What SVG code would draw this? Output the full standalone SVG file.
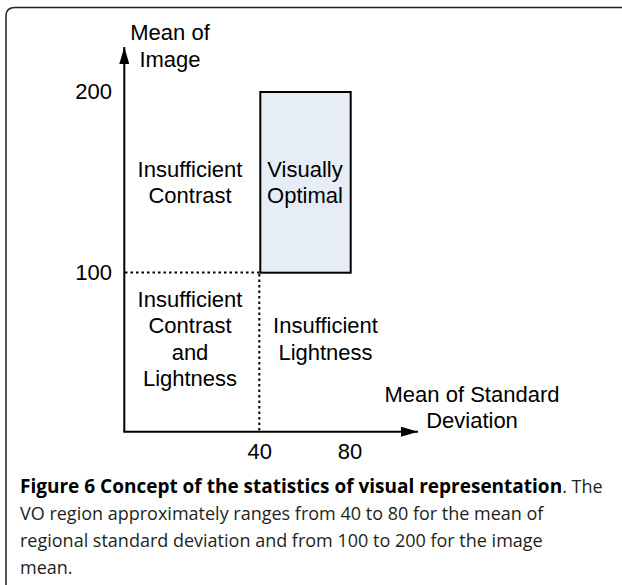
<svg xmlns="http://www.w3.org/2000/svg" width="622" height="585" viewBox="0 0 622 585">
<defs>
<marker id="arr" viewBox="0 0 17 10" refX="17" refY="5" markerWidth="17" markerHeight="10" markerUnits="userSpaceOnUse" orient="auto">
<path d="M0,0 L17,5 L0,10 Z" fill="#000"/>
</marker>
</defs>
<style>
.t{font-family:"Liberation Sans",Arial,sans-serif;font-size:22px;fill:#000;text-anchor:middle}
.n{font-family:"Liberation Sans",Arial,sans-serif;font-size:22px;fill:#000}
.cap{font-family:"Open Sans",sans-serif;font-size:18px;fill:#231f20}
.b{font-weight:bold;font-size:19px;fill:#000}
.axis{stroke:#000;stroke-width:2;fill:none}
.dot{stroke:#000;stroke-width:2;stroke-dasharray:2.5 3;fill:none}
</style>
<rect width="622" height="585" fill="#fff"/>
<path d="M6,592 L6,16 Q6,7.5 15,7.5 L640,7.5" fill="none" stroke="#222" stroke-width="1.5"/>
<g id="connectors">
<line class="axis" x1="124.3" y1="432" x2="124.3" y2="47" marker-end="url(#arr)"/>
<line class="axis" x1="123.3" y1="431.7" x2="418" y2="431.7" marker-end="url(#arr)"/>
<line class="dot" x1="125" y1="272.5" x2="260" y2="272.5"/>
<line class="dot" x1="259.3" y1="274" x2="259.3" y2="431"/>
</g>
<g id="vo">
<rect x="260.3" y="92" width="90.4" height="180.7" fill="#e6edf7" stroke="#000" stroke-width="2"/>
<text class="t" x="305" y="177">Visually</text>
<text class="t" x="305" y="203">Optimal</text>
</g>
<g id="ic">
<text class="t" x="190" y="177">Insufficient</text>
<text class="t" x="190" y="203">Contrast</text>
</g>
<g id="icl">
<text class="t" x="190" y="307">Insufficient</text>
<text class="t" x="190" y="333">Contrast</text>
<text class="t" x="190" y="360">and</text>
<text class="t" x="190" y="386">Lightness</text>
</g>
<g id="il">
<text class="t" x="325.5" y="333">Insufficient</text>
<text class="t" x="325.5" y="360">Lightness</text>
</g>
<g id="ylabel">
<text class="t" x="170" y="40">Mean of</text>
<text class="t" x="170" y="67">Image</text>
</g>
<g id="xlabel">
<text class="t" x="472" y="402">Mean of Standard</text>
<text class="t" x="472" y="428">Deviation</text>
</g>
<g id="ticks">
<text class="n" x="112" y="99" text-anchor="end">200</text>
<text class="n" x="112" y="280" text-anchor="end">100</text>
<text class="t" x="259.7" y="459">40</text>
<text class="t" x="350" y="459">80</text>
</g>
<g id="caption">
<text class="cap" x="20" y="493"><tspan class="b">Figure 6 Concept of the statistics of visual representation</tspan>. The</text>
<text class="cap" x="20" y="520">VO region approximately ranges from 40 to 80 for the mean of</text>
<text class="cap" x="20" y="547">regional standard deviation and from 100 to 200 for the image</text>
<text class="cap" x="20" y="574">mean.</text>
</g>
</svg>
